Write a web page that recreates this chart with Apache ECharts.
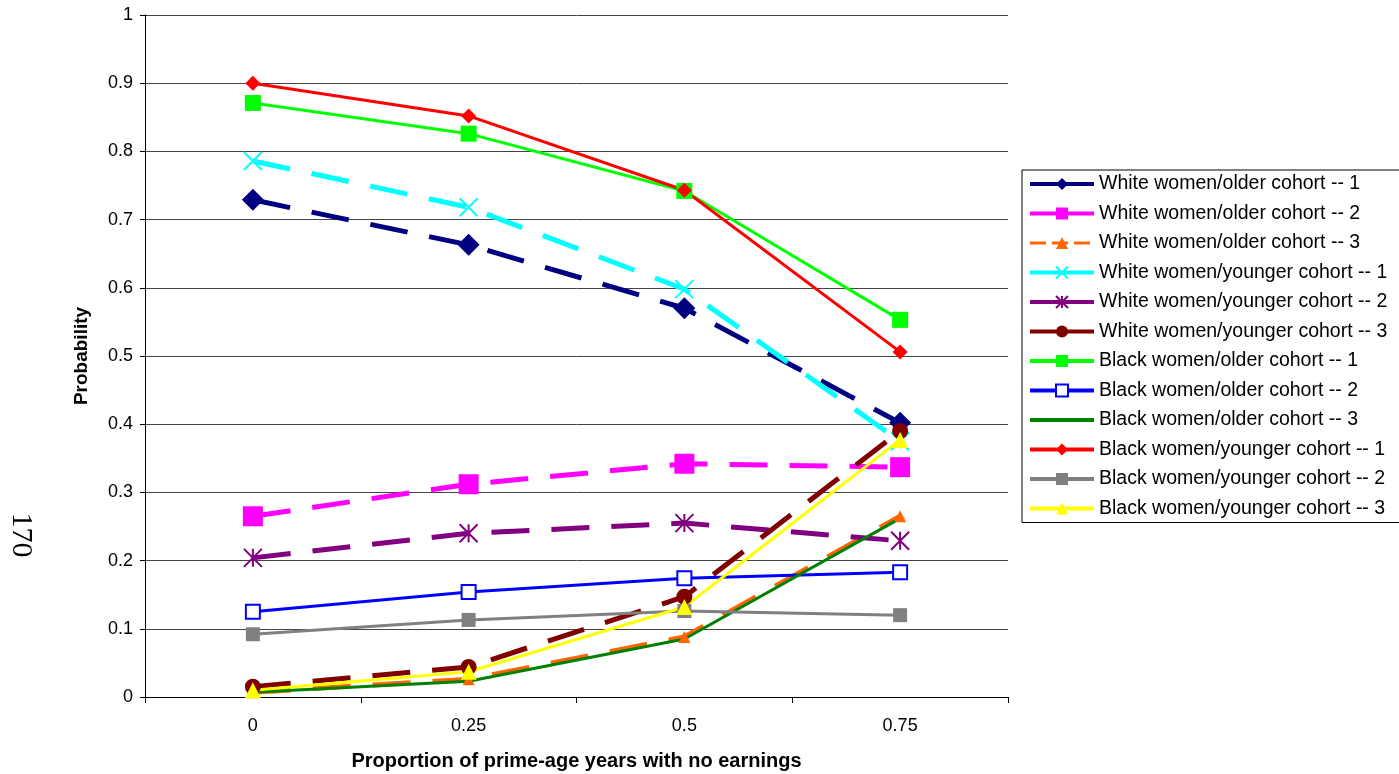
<!DOCTYPE html>
<html>
<head>
    <meta charset="utf-8">
    <title>Probability chart</title>
    <script src="https://cdn.jsdelivr.net/npm/echarts@6/dist/echarts.min.js"></script>
    <style>
        html, body { margin: 0; padding: 0; background: #fff; }
        #main { width: 1399px; height: 774px; }
    </style>
</head>
<body>
<div id="main"></div>
<script type="text/javascript">
    // categories
    var categories = ['0', '0.25', '0.5', '0.75'];
    var yTicks = [0, 0.1, 0.2, 0.3, 0.4, 0.5, 0.6, 0.7, 0.8, 0.9, 1];

    // series values
    var whiteOlder1 = [0.729, 0.663, 0.570, 0.402];
    var whiteOlder2 = [0.265, 0.312, 0.342, 0.337];
    var whiteOlder3 = [0.007, 0.026, 0.088, 0.265];
    var whiteYounger1 = [0.786, 0.718, 0.598, 0.375];
    var whiteYounger2 = [0.204, 0.240, 0.255, 0.229];
    var whiteYounger3 = [0.015, 0.044, 0.147, 0.390];
    var blackOlder1 = [0.871, 0.826, 0.742, 0.553];
    var blackOlder2 = [0.125, 0.154, 0.174, 0.183];
    var blackOlder3 = [0.007, 0.023, 0.085, 0.262];
    var blackYounger1 = [0.900, 0.852, 0.743, 0.506];
    var blackYounger2 = [0.092, 0.113, 0.126, 0.120];
    var blackYounger3 = [0.010, 0.037, 0.132, 0.377];

    var xMark = 'path://M0 0 L10 10 M10 0 L0 10';
    var starMark = 'path://M5 0 L5 10 M0 0 L10 10 M10 0 L0 10';
    var dash = [38, 22];

    function mk(name, data, color, symbol, size, dashed, extra) {
        var s = {
            name: name,
            type: 'line',
            data: data,
            symbol: symbol,
            symbolSize: size,
            showSymbol: symbol !== 'none',
            z: 3,
            lineStyle: {color: color, width: dashed ? 5 : 3, type: dashed ? dash : 'solid'},
            itemStyle: {color: color, borderColor: color, borderWidth: 0, opacity: 1},
            emphasis: {disabled: true}
        };
        if (extra) {
            s.itemStyle.borderWidth = extra.bw;
            if (extra.fill) s.itemStyle.color = extra.fill;
        }
        return s;
    }

    var seriesData = [
        mk('White women/older cohort -- 1', whiteOlder1, '#000080', 'diamond', 22, true),
        mk('White women/older cohort -- 2', whiteOlder2, '#ff00ff', 'rect', 20, true),
        mk('White women/older cohort -- 3', whiteOlder3, '#ff6600', 'triangle', 12, true),
        mk('White women/younger cohort -- 1', whiteYounger1, '#00ffff', xMark, 18, true, {bw: 2}),
        mk('White women/younger cohort -- 2', whiteYounger2, '#800080', starMark, 18, true, {bw: 2}),
        mk('White women/younger cohort -- 3', whiteYounger3, '#800000', 'circle', 16, true),
        mk('Black women/older cohort -- 1', blackOlder1, '#00ff00', 'rect', 16, false),
        mk('Black women/older cohort -- 2', blackOlder2, '#0000ff', 'rect', 14, false, {bw: 2, fill: '#ffffff'}),
        mk('Black women/older cohort -- 3', blackOlder3, '#008000', 'none', 0, false),
        mk('Black women/younger cohort -- 1', blackYounger1, '#ff0000', 'diamond', 15, false),
        mk('Black women/younger cohort -- 2', blackYounger2, '#808080', 'rect', 14, false),
        mk('Black women/younger cohort -- 3', blackYounger3, '#ffff00', 'triangle', 16, false)
    ];

    // 图例：线段一律实线显示（橙色除外），无标记的系列隐藏符号
    var legendData = seriesData.map(function (s) {
        var item = {name: s.name, lineStyle: {width: 4, type: 'solid'}};
        if (s.name === 'White women/older cohort -- 3') {
            item.lineStyle = {width: 3, type: [16, 6]};
        }
        if (s.symbol === 'none') {
            item.itemStyle = {opacity: 0};
        }
        return item;
    });

    var chart = echarts.init(document.getElementById('main'));
    var option = {
        animation: false,
        textStyle: {fontFamily: 'Liberation Sans, Arial, sans-serif'},
        grid: {left: 145, right: 391, top: 15, bottom: 77, containLabel: false, outerBoundsMode: 'none'},
        legend: {
            orient: 'vertical',
            left: 1022,
            top: 170,
            itemWidth: 64,
            itemHeight: 15,
            itemGap: 9.5,
            padding: [4, 16, 4, 6],
            borderColor: '#000',
            borderWidth: 1,
            textStyle: {fontSize: 19.5, color: '#000', fontFamily: 'Liberation Sans, Arial, sans-serif'},
            data: legendData
        },
        xAxis: {
            type: 'category',
            data: categories,
            boundaryGap: true,
            name: 'Proportion of prime-age years with no earnings',
            nameLocation: 'middle',
            nameGap: 54,
            nameTextStyle: {fontSize: 20, fontWeight: 'bold', color: '#000'},
            axisLine: {lineStyle: {color: '#000', width: 1}},
            axisTick: {show: true, length: 6, lineStyle: {color: '#000'}},
            axisLabel: {fontSize: 18, color: '#000', margin: 20},
            splitLine: {show: false}
        },
        yAxis: {
            type: 'value',
            min: yTicks[0],
            max: yTicks[yTicks.length - 1],
            interval: 0.1,
            name: 'Probability',
            nameLocation: 'middle',
            nameGap: 54,
            nameRotate: 90,
            nameTextStyle: {fontSize: 19, fontWeight: 'bold', color: '#000'},
            axisLine: {show: true, lineStyle: {color: '#000', width: 1}},
            axisTick: {show: true, length: 5, lineStyle: {color: '#000'}},
            axisLabel: {fontSize: 18, color: '#000', margin: 12},
            splitLine: {show: true, lineStyle: {color: '#444', width: 1}}
        },
        graphic: [{
            type: 'text',
            x: 21,
            y: 535,
            rotation: -Math.PI / 2,
            style: {
                text: '170',
                font: '30px "Liberation Serif", "Times New Roman", serif',
                fill: '#000',
                align: 'center',
                verticalAlign: 'middle'
            }
        }],
        series: seriesData
    };
    chart.setOption(option);
</script>
</body>
</html>
